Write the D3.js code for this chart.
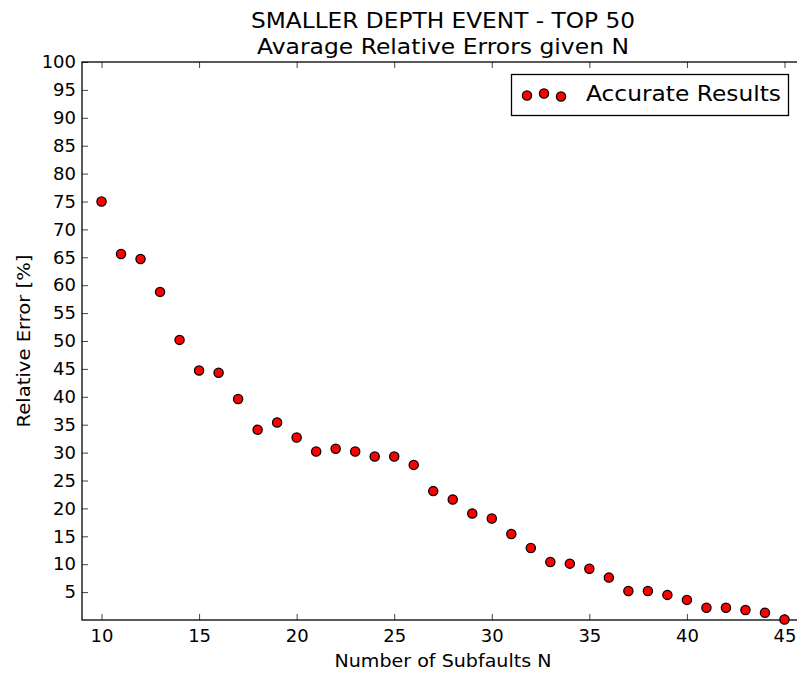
<!DOCTYPE html>
<html>
<head>
<meta charset="utf-8">
<script src="https://cdn.jsdelivr.net/npm/d3@7"></script>
<style>
  html, body { margin: 0; padding: 0; background: #fff; }
  svg { display: block; font-family: "DejaVu Sans", sans-serif; }
</style>
</head>
<body>
<svg id="chart" width="797" height="674"></svg>
<script>
// Number of subfaults N
const subfaults = [10, 11, 12, 13, 14, 15, 16, 17, 18, 19, 20, 21, 22, 23, 24, 25, 26, 27,
  28, 29, 30, 31, 32, 33, 34, 35, 36, 37, 38, 39, 40, 41, 42, 43, 44, 45];
// Average relative error [%] for each N
const relErrors = [75.0, 65.6, 64.7, 58.8, 50.2, 44.7, 44.3, 39.6, 34.1, 35.4, 32.7, 30.2,
  30.7, 30.2, 29.3, 29.3, 27.8, 23.1, 21.6, 19.1, 18.2, 15.4, 12.9, 10.4, 10.1, 9.2, 7.6,
  5.2, 5.2, 4.5, 3.6, 2.2, 2.2, 1.8, 1.3, 0.1];
const xTicks = [10, 15, 20, 25, 30, 35, 40, 45];
const yTicks = [5, 10, 15, 20, 25, 30, 35, 40, 45, 50, 55, 60, 65, 70, 75, 80, 85, 90, 95, 100];
const titleLines = ["SMALLER DEPTH EVENT - TOP 50", "Avarage Relative Errors given N"];
const seriesName = "Accurate Results";

const svg = d3.select("#chart");
const m = { left: 82, top: 62, right: 804, bottom: 620 };

const x = d3.scaleLinear().domain([9, 46]).range([m.left, m.right]);
const y = d3.scaleLinear().domain([0, 100]).range([m.bottom, m.top]);

// Titles (two lines, slightly widened glyphs)
const titleWidths = [384, 372];
svg.selectAll("text.title").data(titleLines).enter().append("text")
  .attr("class", "title")
  .attr("x", (m.left + m.right) / 2)
  .attr("y", (d, i) => 28 + i * 25.5)
  .attr("text-anchor", "middle")
  .attr("font-size", 21)
  .attr("textLength", (d, i) => titleWidths[i])
  .attr("lengthAdjust", "spacingAndGlyphs")
  .attr("fill", "#000")
  .text(d => d);

// Axes with inward ticks
const tickLen = 6;
const gx = svg.append("g").attr("transform", `translate(0,${m.bottom})`)
  .call(d3.axisBottom(x).tickValues(xTicks).tickSizeInner(-tickLen).tickSizeOuter(0).tickPadding(9));
const gxTop = svg.append("g").attr("transform", `translate(0,${m.top})`)
  .call(d3.axisTop(x).tickValues(xTicks).tickSizeInner(-tickLen).tickSizeOuter(0).tickFormat(""));
const gy = svg.append("g").attr("transform", `translate(${m.left},0)`)
  .call(d3.axisLeft(y).tickValues(yTicks).tickSizeInner(-tickLen).tickSizeOuter(0).tickPadding(6));

[gx, gxTop, gy].forEach(g => {
  g.select(".domain").remove();
  g.selectAll(".tick line").attr("stroke", "#444").attr("stroke-width", 1);
  g.selectAll(".tick text").attr("font-size", 18).attr("fill", "#000")
    .attr("font-family", "DejaVu Sans, sans-serif");
});

// Frame
svg.append("rect")
  .attr("x", m.left).attr("y", m.top)
  .attr("width", m.right - m.left).attr("height", m.bottom - m.top)
  .attr("fill", "none").attr("stroke", "#000").attr("stroke-width", 1.3);

// Axis labels
svg.append("text")
  .attr("x", (m.left + m.right) / 2).attr("y", 667)
  .attr("text-anchor", "middle").attr("font-size", 18).attr("fill", "#000")
  .attr("textLength", 217).attr("lengthAdjust", "spacingAndGlyphs")
  .text("Number of Subfaults N");
svg.append("text")
  .attr("transform", `translate(30,${(m.top + m.bottom) / 2}) rotate(-90)`)
  .attr("text-anchor", "middle").attr("font-size", 18).attr("fill", "#000")
  .attr("textLength", 173).attr("lengthAdjust", "spacingAndGlyphs")
  .text("Relative Error [%]");

// Scatter points
const pts = subfaults.map((n, i) => ({ n, v: relErrors[i] }));
svg.append("g").selectAll("circle").data(pts).enter().append("circle")
  .attr("cx", d => x(d.n))
  .attr("cy", d => y(d.v))
  .attr("r", 4.6)
  .attr("fill", "#ff0000")
  .attr("stroke", "#000")
  .attr("stroke-width", 1.3);

// Legend
const lg = svg.append("g");
lg.append("rect")
  .attr("x", 511.5).attr("y", 74.5).attr("width", 277).attr("height", 41)
  .attr("fill", "#fff").attr("stroke", "#000").attr("stroke-width", 1.3);
const legendOffsets = [[527, 95.5], [544, 93.5], [561, 96.5]];
lg.selectAll("circle").data(legendOffsets).enter().append("circle")
  .attr("cx", d => d[0]).attr("cy", d => d[1]).attr("r", 4.6)
  .attr("fill", "#ff0000").attr("stroke", "#000").attr("stroke-width", 1.3);
lg.append("text")
  .attr("x", 586).attr("y", 100.5)
  .attr("font-size", 21).attr("fill", "#000")
  .attr("textLength", 195).attr("lengthAdjust", "spacingAndGlyphs")
  .text(seriesName);
</script>
</body>
</html>
